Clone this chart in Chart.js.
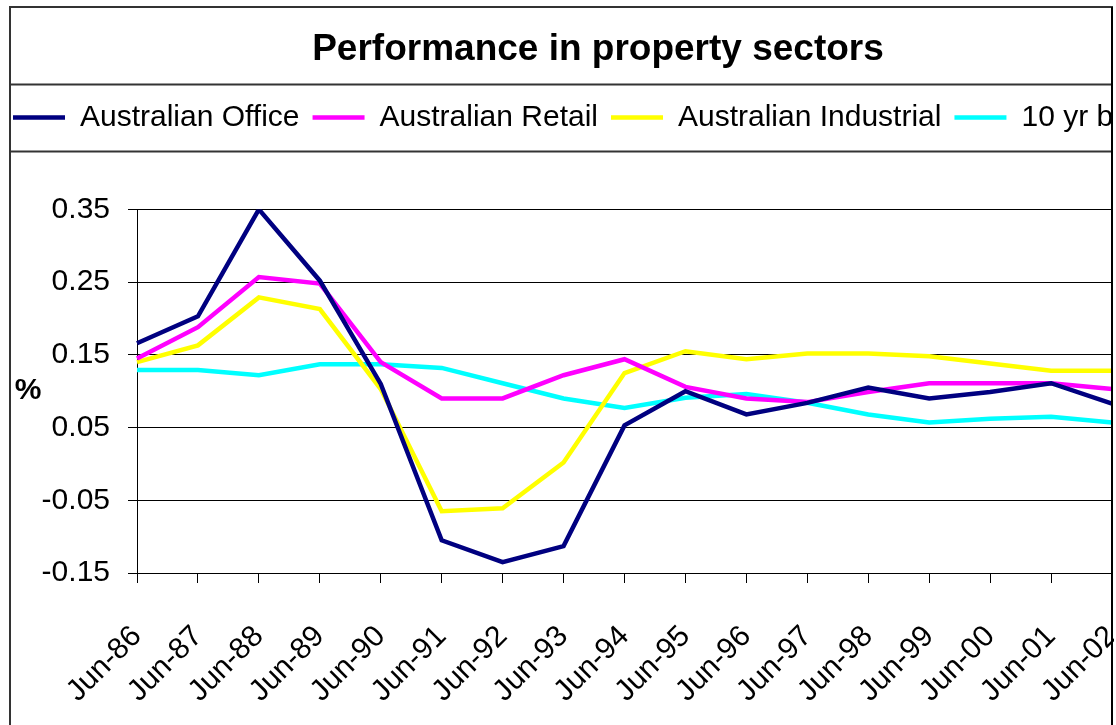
<!DOCTYPE html>
<html>
<head>
<meta charset="utf-8">
<title>Performance in property sectors</title>
<script src="https://cdn.jsdelivr.net/npm/chart.js@4.4.1/dist/chart.umd.min.js"></script>
<style>
  html, body { margin: 0; padding: 0; background: #fff; overflow: hidden; }
  #wrap { position: absolute; left: 0; top: 0; width: 1114px; height: 725px; overflow: hidden; }
  canvas { display: block; }
</style>
</head>
<body>
<div id="wrap"><canvas id="lineChart" width="1196" height="740"></canvas></div>
<script>
var labels = ['Jun-86', 'Jun-87', 'Jun-88', 'Jun-89', 'Jun-90', 'Jun-91', 'Jun-92', 'Jun-93', 'Jun-94',
              'Jun-95', 'Jun-96', 'Jun-97', 'Jun-98', 'Jun-99', 'Jun-00', 'Jun-01', 'Jun-02'];
var seriesNames = ['Australian Office', 'Australian Retail', 'Australian Industrial', '10 yr bond'];
var office     = [0.166, 0.203, 0.350, 0.252, 0.110, -0.105, -0.135, -0.113, 0.053, 0.100, 0.068, 0.084, 0.105, 0.090, 0.099, 0.111, 0.083];
var retail     = [0.145, 0.188, 0.257, 0.248, 0.140, 0.090, 0.090, 0.122, 0.144, 0.106, 0.090, 0.085, 0.099, 0.111, 0.111, 0.111, 0.103];
var industrial = [0.140, 0.163, 0.229, 0.213, 0.103, -0.065, -0.061, 0.002, 0.125, 0.155, 0.144, 0.152, 0.152, 0.148, 0.138, 0.128, 0.128];
var bond       = [0.129, 0.129, 0.122, 0.137, 0.137, 0.132, 0.111, 0.090, 0.077, 0.091, 0.096, 0.084, 0.068, 0.057, 0.062, 0.065, 0.057];
var colors = ['#000080', '#ff00ff', '#ffff00', '#00ffff'];
var yMin = -0.15, yMax = 0.35, yStep = 0.1;

Chart.defaults.font.family = "'Liberation Sans', Arial, sans-serif";
Chart.defaults.color = '#000';

// extra room under the legend row (the legend box sits above a gap)
var legendGap = {
    id: 'legendGap',
    beforeInit: function(chart) {
        var fit = chart.legend.fit;
        chart.legend.fit = function() {
            fit.bind(chart.legend)();
            this.height += 67;
        };
    }
};

// frame, legend box and the "%" label
var frame = {
    id: 'frame',
    afterDraw: function(chart) {
        var ctx = chart.ctx;
        var lg = chart.legend;
        var ys = chart.scales.y;
        ctx.save();
        ctx.strokeStyle = '#333';
        ctx.lineWidth = 2;
        ctx.beginPath();
        ctx.moveTo(10, 740); ctx.lineTo(10, 7); ctx.lineTo(1113, 7);
        ctx.moveTo(10, lg.top - 5); ctx.lineTo(1113, lg.top - 5);
        ctx.moveTo(10, lg.top + 62); ctx.lineTo(1113, lg.top + 62);
        ctx.stroke();
        ctx.strokeStyle = '#000';
        ctx.beginPath();
        ctx.moveTo(1112, 7); ctx.lineTo(1112, 740);
        ctx.stroke();
        ctx.font = "bold 30px 'Liberation Sans', Arial, sans-serif";
        ctx.fillStyle = '#000';
        ctx.textAlign = 'center';
        ctx.textBaseline = 'middle';
        ctx.fillText('%', ys.left + 28, (chart.chartArea.top + chart.chartArea.bottom) / 2);
        ctx.restore();
    }
};

var sets = [office, retail, industrial, bond];
var datasets = [];
for (var i = 0; i < sets.length; i++) {
    datasets.push({
        label: seriesNames[i],
        data: sets[i],
        borderColor: colors[i],
        backgroundColor: colors[i],
        borderWidth: 4.5,
        pointRadius: 0,
        tension: 0
    });
}

var ctx = document.getElementById('lineChart').getContext('2d');
var myChart = new Chart(ctx, {
    type: 'line',
    data: { labels: labels, datasets: datasets },
    plugins: [legendGap, frame],
    options: {
        responsive: false,
        animation: false,
        plugins: {
            title: {
                display: true,
                text: 'Performance in property sectors',
                font: { size: 37, weight: 'bold' },
                padding: { top: 28, bottom: 17 }
            },
            legend: {
                display: true,
                align: 'start',
                labels: {
                    boxWidth: 52,
                    boxHeight: 0,
                    padding: 13,
                    font: { size: 30 },
                    color: '#000'
                }
            },
            tooltip: { enabled: false }
        },
        scales: {
            x: {
                offset: false,
                grid: { drawOnChartArea: false, drawTicks: true, tickLength: 10, color: '#000' },
                border: { color: '#000', width: 1 },
                ticks: { autoSkip: false, maxRotation: 45, minRotation: 45, padding: 36, font: { size: 30 } },
                afterFit: function(s) { s.height = 167; }
            },
            y: {
                min: yMin,
                max: yMax,
                ticks: {
                    stepSize: yStep,
                    padding: 18,
                    font: { size: 30 },
                    callback: function(v) { return Number(v).toFixed(2); }
                },
                grid: { color: '#000', tickLength: 9 },
                border: { color: '#000', width: 1 },
                afterFit: function(s) { s.width = 137; }
            },
            y2: {
                position: 'right',
                display: true,
                grid: { display: false },
                border: { display: false },
                ticks: { display: false },
                afterFit: function(s) { s.width = 84; }
            }
        }
    }
});
</script>
</body>
</html>
